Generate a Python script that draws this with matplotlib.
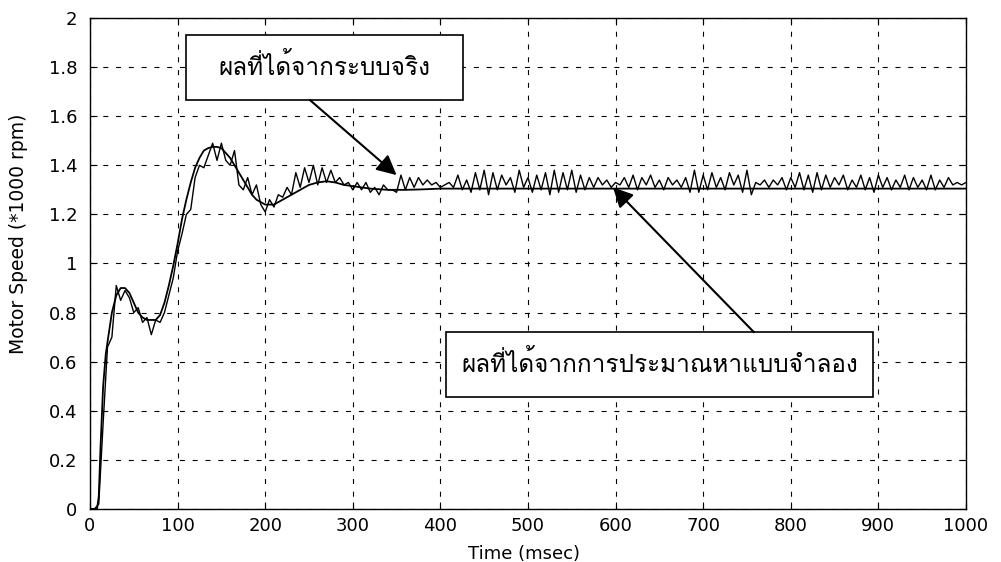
import numpy as np
import matplotlib
matplotlib.use("Agg")
import matplotlib.pyplot as plt
from matplotlib import font_manager
from matplotlib.ft2font import FT2Font
from matplotlib.patches import Rectangle

# ---------------- data ----------------
measured_t = list(range(0, 1001, 5))
measured_v = [
    0.00, 0.00, 0.02, 0.35, 0.66, 0.70, 0.91, 0.85, 0.89, 0.86,
    0.80, 0.82, 0.76, 0.78, 0.71, 0.77, 0.76, 0.80, 0.87, 0.94,
    1.05, 1.12, 1.20, 1.22, 1.35, 1.40, 1.39, 1.44, 1.49, 1.42,
    1.49, 1.42, 1.40, 1.46, 1.32, 1.30, 1.35, 1.28, 1.32, 1.24,
    1.21, 1.26, 1.23, 1.28, 1.27, 1.31, 1.28, 1.37, 1.31, 1.39,
    1.33, 1.40, 1.32, 1.39, 1.33, 1.38, 1.33, 1.35, 1.32, 1.33,
    1.30, 1.33, 1.30, 1.33, 1.29, 1.31, 1.28, 1.32, 1.30, 1.30,
    1.29, 1.36, 1.30, 1.35, 1.31, 1.35, 1.32, 1.34, 1.32, 1.33,
    1.31, 1.32, 1.33, 1.31, 1.36, 1.30, 1.34, 1.29, 1.37, 1.30,
    1.38, 1.28, 1.37, 1.30, 1.36, 1.32, 1.35, 1.29, 1.38, 1.31,
    1.35, 1.29, 1.36, 1.30, 1.37, 1.28, 1.38, 1.29, 1.37, 1.30,
    1.38, 1.29, 1.36, 1.30, 1.35, 1.31, 1.35, 1.32, 1.34, 1.31,
    1.33, 1.32, 1.35, 1.31, 1.36, 1.30, 1.35, 1.32, 1.36, 1.31,
    1.34, 1.30, 1.35, 1.32, 1.34, 1.31, 1.35, 1.29, 1.38, 1.29,
    1.36, 1.30, 1.37, 1.31, 1.35, 1.30, 1.37, 1.32, 1.36, 1.29,
    1.38, 1.28, 1.33, 1.32, 1.34, 1.31, 1.34, 1.32, 1.35, 1.30,
    1.35, 1.31, 1.37, 1.30, 1.36, 1.29, 1.37, 1.30, 1.36, 1.31,
    1.35, 1.32, 1.36, 1.30, 1.34, 1.31, 1.36, 1.30, 1.35, 1.29,
    1.36, 1.31, 1.35, 1.30, 1.34, 1.31, 1.36, 1.30, 1.35, 1.31,
    1.34, 1.30, 1.36, 1.30, 1.34, 1.31, 1.35, 1.32, 1.33, 1.32,
    1.33,
]

model_t = [0, 8, 10, 12, 15, 18, 20, 25, 30, 35, 40, 45, 50, 55, 60, 65, 70,
           75, 80, 85, 90, 95, 100, 105, 110, 115, 120, 125, 130, 135, 140,
           145, 150, 155, 160, 165, 170, 175, 180, 185, 190, 195, 200, 210,
           220, 230, 240, 250, 260, 270, 280, 290, 300, 320, 340, 360, 380,
           400, 450, 500, 600, 700, 800, 900, 1000]
model_v = [0.00, 0.00, 0.05, 0.25, 0.50, 0.63, 0.68, 0.80, 0.87, 0.90, 0.90,
           0.88, 0.84, 0.80, 0.78, 0.77, 0.77, 0.77, 0.79, 0.84, 0.91, 0.99,
           1.08, 1.18, 1.26, 1.33, 1.39, 1.43, 1.46, 1.47, 1.475, 1.475, 1.47,
           1.45, 1.43, 1.40, 1.37, 1.34, 1.31, 1.28, 1.26, 1.25, 1.24, 1.24,
           1.26, 1.28, 1.30, 1.32, 1.33, 1.335, 1.33, 1.32, 1.315, 1.305,
           1.30, 1.30, 1.302, 1.305, 1.305, 1.305, 1.305, 1.305, 1.305,
           1.305, 1.305]

x_ticks = [0, 100, 200, 300, 400, 500, 600, 700, 800, 900, 1000]
y_ticks = [0, 0.2, 0.4, 0.6, 0.8, 1.0, 1.2, 1.4, 1.6, 1.8, 2.0]
y_tick_labels = ["0", "0.2", "0.4", "0.6", "0.8", "1", "1.2", "1.4", "1.6", "1.8", "2"]

label_real = "ผลที่ได้จากระบบจริง"
label_model = "ผลที่ได้จากการประมาณหาแบบจำลอง"

# ---------------- find a font with Thai glyphs ----------------
thai_font = None
preferred = []
for fe in font_manager.fontManager.ttflist:
    try:
        cmap = FT2Font(fe.fname).get_charmap()
    except Exception:
        continue
    if 0x0E1C in cmap and 0x0E08 in cmap:
        preferred.append(fe.name)
if preferred:
    thai_font = preferred[0]
thai_family = [thai_font, "DejaVu Sans"] if thai_font else ["DejaVu Sans"]

# ---------------- figure ----------------
fig = plt.figure(figsize=(10.01, 5.62), dpi=100)
ax = fig.add_axes([0.0899, 0.0943, 0.8751, 0.8737])

ax.plot(model_t, model_v, color="black", lw=1.3)
ax.plot(measured_t, measured_v, color="black", lw=1.0)

ax.set_xlim(0, 1000)
ax.set_ylim(0, 2)
ax.set_xticks(x_ticks)
ax.set_xticklabels([str(v) for v in x_ticks], fontsize=13, family="DejaVu Sans")
ax.set_yticks(y_ticks)
ax.set_yticklabels(y_tick_labels, fontsize=13, family="DejaVu Sans")
ax.tick_params(direction="in", length=5, width=0.8, top=True, right=True,
               colors="black")
ax.tick_params(axis="y", pad=9)
ax.tick_params(axis="x", pad=6)
for s in ax.spines.values():
    s.set_color("black")
    s.set_linewidth(1.0)
ax.grid(True, color="black", lw=0.8, linestyle=(0, (4.5, 7.0)))

ax.set_xlabel("Time (msec)", fontsize=13, family="DejaVu Sans")
ax.xaxis.set_label_coords(0.496, -0.073)
ax.set_ylabel("Motor Speed (*1000 rpm)", fontsize=13.5, family="DejaVu Sans")
ax.yaxis.set_label_coords(-0.071, 0.56)

# annotation boxes (axes-fraction geometry)
for (x0, y0, w, h) in [(0.1095, 0.833, 0.316, 0.133), (0.406, 0.228, 0.488, 0.133)]:
    ax.add_patch(Rectangle((x0, y0), w, h, transform=ax.transAxes,
                           facecolor="white", edgecolor="black", lw=1.2, zorder=5))
ax.text(0.2675, 0.902, label_real, fontsize=17.5, family=thai_family, ha="center",
        va="center", transform=ax.transAxes, zorder=6)
ax.text(0.650, 0.297, label_model, fontsize=17.5, family=thai_family, ha="center",
        va="center", transform=ax.transAxes, zorder=6)

arrow = dict(arrowstyle="-|>", color="black", lw=1.5, mutation_scale=30,
             shrinkA=0, shrinkB=0)
ax.annotate("", xy=(350, 1.36), xytext=(251, 1.666), arrowprops=arrow, zorder=7)
ax.annotate("", xy=(597, 1.31), xytext=(758, 0.72), arrowprops=arrow, zorder=7)

fig.savefig("out.png", dpi=100)
